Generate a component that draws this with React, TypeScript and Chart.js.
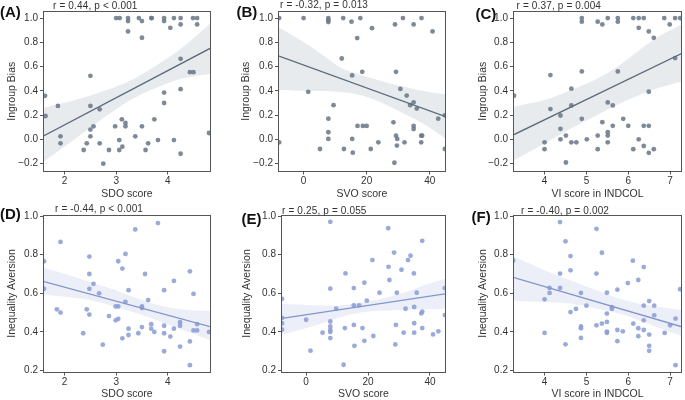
import React, { useEffect, useRef } from 'react';
import { Chart, registerables } from 'chart.js';
Chart.register(...registerables);

// ---------------- DATA ----------------
// Panel A: SDO score vs Ingroup Bias
const sdoA = [3.0,3.07,3.23,3.44,3.68,3.69,3.93,4.12,4.25,4.49,4.57, 3.23,3.50,3.93, 4.25,4.57, 4.05, 3.23, 3.50, 4.25,4.43,4.50,4.25,3.93,3.93, 2.50,1.62,1.87,2.50,2.68,1.63, 3.11,3.74,3.18,2.56,2.98,3.18,3.50, 2.50,4.80,1.92,2.50,3.37, 3.06,3.81,4.12, 1.92,2.43,2.68,3.62, 3.12, 2.37,2.86,3.06,3.57, 4.25,2.75];
const biasA = [1,1,1,1,1,1,1,1,1,1,1, 0.975,0.975,0.975, 0.948,0.948, 0.92, 0.89, 0.838, 0.664,0.554,0.554,0.414,0.386,0.30, 0.524,0.359,0.276,0.276,0.248,0.193, 0.166,0.166,0.136,0.108,0.108,0.108,0.108, 0.081,0.053,0.026,0.026,0.026, -0.005,-0.005,-0.005, -0.032,-0.032,-0.032,-0.032, -0.06, -0.087,-0.087,-0.087,-0.087, -0.118,-0.2];
const fitXA = [1.6, 4.82];
const fitYA = [0.03, 0.75];
const bandXA = [1.6, 2.2, 2.8, 3.3, 3.8, 4.3, 4.82];
const bandLoA = [-0.18, 0.004, 0.19, 0.33, 0.43, 0.504, 0.54];
const bandHiA = [0.26, 0.324, 0.405, 0.49, 0.615, 0.764, 0.956];

// Panel B: SVO score vs Ingroup Bias
const svoB = [-7.75,0,7.85,7.85,7.85,12.57,18.0,31.5,37.4, 15.2,21.7,29.0,34.9,40.9,17.0,12.1,18.6,15.4,29.3,1.47,30.7,32.7,33.8,34.9,35.9,9.5,44.8,42.7,7.85,17.1,18.8,20.0,28.5,34.9,34.9,7.85,37.3,37.6,29.3,29.7,7.85,15.4,-7.75,23.7,32.0,37.3,29.6,5.2,12.8,21.3,44.8,15.6,28.8];
const biasB = [1,1,1,0.983,0.967,1,1,1,1, 0.97,0.917,0.948,0.948,0.89,0.835,0.667,0.557,0.527,0.557,0.392,0.416,0.361,0.282,0.306,0.254,0.282,0.199,0.171,0.171,0.111,0.111,0.111,0.141,0.111,0.086,0.059,0.031,0.031,0.031,0.004,0.004,0.004,-0.024,-0.024,-0.024,-0.024,-0.051,-0.079,-0.079,-0.079,-0.079,-0.109,-0.192];
const fitXB = [-7.8, 44.85];
const fitYB = [0.686, 0.19];
const bandXB = [-7.8, 1.4, 6.6, 11.8, 17.1, 22.3, 27.5, 32.8, 38.0, 44.85];
const bandLoB = [0.41, 0.40, 0.40, 0.39, 0.37, 0.33, 0.27, 0.20, 0.13, 0.01];
const bandHiB = [0.923, 0.78, 0.685, 0.59, 0.54, 0.50, 0.46, 0.43, 0.40, 0.372];

// Panel C: VI score in INDCOL vs Ingroup Bias
const viC = [4.89,4.89,5.27,5.38,5.51,5.75,5.75,6.12,6.25,6.37,6.25,6.49,6.61,6.86,6.99,7.12,7.24,7.12, 3.27,4.14,4.89,5.75,4.64,6.49,4.14,4.64,5.51,5.63,4.38,4.89,5.88,4.38,5.38,5.63,6.0,6.37,6.49,5.51,5.51,4.51,5.27,4.38,5.01,6.25,4.0,4.64,4.76,5.51,6.37,4.0,5.27,6.12,6.61,6.49,4.51];
const biasC = [1,0.97,0.97,0.948,1,1,0.97,1,1,1,0.92,0.89,0.837,1,0.948,1,1,0.67, 0.36,0.53,0.56,0.56,0.418,0.393,0.25,0.28,0.305,0.28,0.197,0.17,0.17,0.087,0.142,0.112,0.112,0.112,0.112,0.06,0.032,0.032,0.032,0.001,0.001,0.001,-0.024,-0.024,-0.024,-0.024,-0.054,-0.08,-0.08,-0.08,-0.08,-0.11,-0.19];
const fitXC = [3.27, 7.26];
const fitYC = [0.04, 0.705];
const bandXC = [3.27, 4.0, 4.63, 5.25, 5.8, 6.27, 6.73, 7.26];
const bandLoC = [-0.172, -0.034, 0.09, 0.2, 0.297, 0.366, 0.426, 0.476];
const bandHiC = [0.27, 0.324, 0.407, 0.50, 0.614, 0.738, 0.848, 0.945];

// Panel D: SDO score vs Inequality Aversion
const sdoD = [1.60,1.60,1.92,1.85,1.92,2.48,2.48,2.48,2.56,2.67,2.43,2.48,2.36,2.74,2.86,2.99,3.04,2.99,3.04,3.04,3.12,3.18,3.18,3.24,3.24,3.24,3.12,3.37,3.43,3.50,3.50,3.50,3.56,3.62,3.68,3.68,3.74,3.81,3.93,3.93,3.93,3.93,4.05,4.12,4.12,4.24,4.24,4.24,4.43,4.43,4.43,4.50,4.50,4.57,4.57,4.80];
const aversionD = [0.766,0.623,0.866,0.517,0.50,0.79,0.70,0.623,0.649,0.60,0.517,0.49,0.393,0.334,0.482,0.532,0.532,0.46,0.468,0.766,0.728,0.804,0.556,0.616,0.417,0.384,0.367,0.931,0.393,0.532,0.524,0.425,0.70,0.565,0.44,0.417,0.40,0.964,0.616,0.432,0.393,0.30,0.376,0.417,0.664,0.45,0.432,0.324,0.714,0.351,0.228,0.597,0.408,0.408,0.44,0.40];
const fitXD = [1.6, 4.82];
const fitYD = [0.661, 0.427];
const bandXD = [1.6, 2.03, 2.48, 2.99, 3.5, 3.95, 4.4, 4.82];
const bandLoD = [0.592, 0.582, 0.565, 0.53, 0.487, 0.444, 0.40, 0.358];
const bandHiD = [0.732, 0.699, 0.66, 0.616, 0.565, 0.53, 0.513, 0.508];

// Panel E: SVO score vs Inequality Aversion
const svoE = [-7.8,-7.8,-7.8,-7.8,0,1.4,5.3,9.7,7.8,7.8,7.8,7.8,7.8,7.8,7.8,12.7,12.5,12.1,15.4,15.4,15.4,15.6,17.1,18.2,18.8,18.8,19.6,21.4,21.7,23.7,26.5,26.6,26.9,28.4,28.8,29.0,29.3,30.8,31.5,32.1,32.9,33.7,34.8,34.9,34.9,34.9,35.7,37.2,37.5,37.5,37.5,41.0,42.7,44.8,44.8];
const aversionE = [0.571,0.473,0.445,0.412,0.463,0.303,0.396,0.52,0.624,0.454,0.428,0.41,0.40,0.368,0.97,0.703,0.42,0.23,0.627,0.538,0.436,0.328,0.538,0.42,0.655,0.354,0.562,0.772,0.379,0.603,0.937,0.737,0.669,0.811,0.335,0.436,0.603,0.722,0.396,0.52,0.772,0.795,0.703,0.529,0.445,0.396,0.603,0.496,0.505,0.872,0.42,0.387,0.403,0.627,0.487];
const fitXE = [-7.8, 44.85];
const fitYE = [0.47, 0.597];
const bandXE = [-7.8, 0.53, 9.1, 16.5, 24.0, 31.5, 37.9, 44.85];
const bandLoE = [0.387, 0.422, 0.466, 0.498, 0.51, 0.513, 0.517, 0.519];
const bandHiE = [0.545, 0.54, 0.536, 0.55, 0.571, 0.603, 0.641, 0.676];

// Panel F: VI score in INDCOL vs Inequality Aversion
const viF = [3.25,4.0,4.0,4.12,4.12,4.37,4.37,4.37,4.50,4.50,4.62,4.62,4.62,4.75,4.87,4.87,4.87,4.87,5.0,5.24,5.24,5.24,5.37,5.37,5.49,5.49,5.49,5.49,5.49,5.61,5.61,5.74,5.74,5.74,5.87,5.99,6.11,6.12,6.24,6.24,6.24,6.37,6.37,6.37,6.37,6.50,6.50,6.50,6.50,6.62,6.62,6.87,7.0,7.13,7.13,7.24];
const aversionF = [0.769,0.569,0.395,0.628,0.602,0.969,0.702,0.628,0.869,0.336,0.793,0.719,0.503,0.519,0.602,0.428,0.419,0.369,0.536,0.934,0.702,0.434,0.81,0.443,0.603,0.495,0.452,0.402,0.395,0.528,0.519,0.619,0.41,0.352,0.403,0.653,0.769,0.443,0.669,0.419,0.378,0.736,0.536,0.46,0.41,0.56,0.386,0.328,0.302,0.536,0.486,0.395,0.434,0.469,0.228,0.621];
const fitXF = [3.27, 7.26];
const fitYF = [0.681, 0.428];
const bandXF = [3.27, 4.0, 4.61, 5.24, 5.79, 6.26, 6.73, 7.26];
const bandLoF = [0.562, 0.555, 0.547, 0.521, 0.495, 0.46, 0.422, 0.381];
const bandHiF = [0.79, 0.719, 0.667, 0.616, 0.572, 0.547, 0.529, 0.514];

// Tick labels
const ticksBias = [-0.2, 0, 0.2, 0.4, 0.6, 0.8, 1.0];
const ticksAversion = [0.2, 0.4, 0.6, 0.8, 1.0];
const ticksSDO = [2, 3, 4];
const ticksSVO = [0, 20, 40];
const ticksVI = [4, 5, 6, 7];

// Labels
const panelLetters = ['(A)', '(B)', '(C)', '(D)', '(E)', '(F)'];
const statTexts = [
  'r = 0.44, p < 0.001',
  'r = -0.32, p = 0.013',
  'r = 0.37, p = 0.004',
  'r = -0.44, p < 0.001',
  'r = 0.25, p = 0.055',
  'r = -0.40, p = 0.002',
];
const xTitles = ['SDO score', 'SVO score', 'VI score in INDCOL', 'SDO score', 'SVO score', 'VI score in INDCOL'];
const yTitles = ['Ingroup Bias', 'Ingroup Bias', 'Ingroup Bias', 'Inequality Aversion', 'Inequality Aversion', 'Inequality Aversion'];

// ---------------- STYLE / LAYOUT ----------------
const FONT = "'Liberation Sans', Arial, Helvetica, sans-serif";
const TOP_STYLE = { dot: 'rgba(108,122,138,0.88)', line: '#5b6b7c', band: 'rgba(120,135,155,0.17)' };
const BOT_STYLE = { dot: 'rgba(140,158,212,0.88)', line: '#8395cb', band: 'rgba(140,160,215,0.17)' };

type Layout = { cl: number; ct: number; cr: number; L: number; T: number; R: number; B: number; titleX: number;
  letter: [number, number]; stat: [number, number]; xr: [number, number]; yr: [number, number] };

const layouts: Layout[] = [
  { cl: 0, ct: 0, cr: 214, L: 44, T: 12, R: 212, B: 170.5, titleX: 12.3, letter: [0, 4], stat: [53, 0.5], xr: [1.6, 4.82], yr: [-0.256, 1.05] },
  { cl: 228, ct: 0, cr: 449, L: 279, T: 12, R: 447, B: 170.5, titleX: 245.7, letter: [236.5, 4], stat: [280, -0.5], xr: [-7.8, 44.85], yr: [-0.256, 1.05] },
  { cl: 458, ct: 0, cr: 685, L: 514, T: 12, R: 684, B: 170.5, titleX: 483.3, letter: [475.5, 6], stat: [516.5, 0.5], xr: [3.27, 7.26], yr: [-0.256, 1.05] },
  { cl: 0, ct: 200, cr: 214, L: 44, T: 215.5, R: 212, B: 371.5, titleX: 12.3, letter: [0, 206], stat: [55, 203.5], xr: [1.6, 4.82], yr: [0.195, 1.003] },
  { cl: 228, ct: 200, cr: 449, L: 282, T: 215.5, R: 447, B: 371.5, titleX: 247.3, letter: [241.5, 210.5], stat: [282, 206], xr: [-7.8, 44.85], yr: [0.195, 1.003] },
  { cl: 458, ct: 200, cr: 685, L: 514, T: 215.5, R: 684, B: 371.5, titleX: 483.3, letter: [471.5, 209], stat: [521, 206], xr: [3.27, 7.26], yr: [0.195, 1.003] },
];

const panelData = [
  { xs: sdoA, ys: biasA, fx: fitXA, fy: fitYA, bx: bandXA, blo: bandLoA, bhi: bandHiA, xt: ticksSDO, yt: ticksBias },
  { xs: svoB, ys: biasB, fx: fitXB, fy: fitYB, bx: bandXB, blo: bandLoB, bhi: bandHiB, xt: ticksSVO, yt: ticksBias },
  { xs: viC, ys: biasC, fx: fitXC, fy: fitYC, bx: bandXC, blo: bandLoC, bhi: bandHiC, xt: ticksVI, yt: ticksBias },
  { xs: sdoD, ys: aversionD, fx: fitXD, fy: fitYD, bx: bandXD, blo: bandLoD, bhi: bandHiD, xt: ticksSDO, yt: ticksAversion },
  { xs: svoE, ys: aversionE, fx: fitXE, fy: fitYE, bx: bandXE, blo: bandLoE, bhi: bandHiE, xt: ticksSVO, yt: ticksAversion },
  { xs: viF, ys: aversionF, fx: fitXF, fy: fitYF, bx: bandXF, blo: bandLoF, bhi: bandHiF, xt: ticksVI, yt: ticksAversion },
];

const zip = (xs: number[], ys: number[]) => xs.map((x, i) => ({ x, y: ys[i] }));
const fmtY = (v: number) => (v < 0 ? '\u2212' : '') + Math.abs(v).toFixed(1);

const framePlugin = {
  id: 'frame',
  afterDatasetsDraw(chart: any) {
    const { ctx, chartArea: a } = chart;
    ctx.save();
    ctx.strokeStyle = '#555555';
    ctx.lineWidth = 1;
    const l = Math.round(a.left) - 0.5, t = Math.round(a.top) - 0.5;
    const r = Math.round(a.right) + 0.5, b = Math.round(a.bottom) + 0.5;
    ctx.strokeRect(l, t, r - l, b - t);
    ctx.restore();
  },
};

function Panel({ idx }: { idx: number }) {
  const ref = useRef<HTMLCanvasElement>(null);
  const lay = layouts[idx];
  const d = panelData[idx];
  const st = idx < 3 ? TOP_STYLE : BOT_STYLE;
  const cw = lay.cr - lay.cl;
  const ch = 200;
  useEffect(() => {
    const yw = lay.L - lay.cl;
    const xh = lay.ct + ch - lay.B;
    const tickFont = { family: FONT, size: 10 };
    const titleFont = { family: FONT, size: 10.5 };
    const grid = { display: true, drawOnChartArea: false, drawTicks: true, tickLength: 4, color: '#555555', lineWidth: 1 };
    const chart = new Chart(ref.current!, {
      type: 'scatter',
      data: {
        datasets: [
          { type: 'line', data: zip(d.bx, d.blo), borderWidth: 0, borderColor: 'transparent', pointRadius: 0, fill: false, cubicInterpolationMode: 'monotone', order: 3, clip: 0 } as any,
          { type: 'line', data: zip(d.bx, d.bhi), borderWidth: 0, borderColor: 'transparent', pointRadius: 0, fill: '-1', backgroundColor: st.band, cubicInterpolationMode: 'monotone', order: 2, clip: 0 } as any,
          { type: 'scatter', data: zip(d.xs, d.ys), pointRadius: 2.4, pointBackgroundColor: st.dot, backgroundColor: st.dot, pointBorderWidth: 0, borderWidth: 0, order: 1, clip: 0 } as any,
          { type: 'line', data: zip(d.fx, d.fy), borderColor: st.line, borderWidth: 1.3, pointRadius: 0, fill: false, tension: 0, order: 0, clip: 0 } as any,
        ],
      },
      options: {
        responsive: false,
        devicePixelRatio: 1,
        animation: false,
        events: [],
        layout: { padding: { left: 0, top: lay.T - lay.ct, right: lay.cr - lay.R, bottom: 0 } },
        plugins: { legend: { display: false }, tooltip: { enabled: false } },
        scales: {
          x: {
            type: 'linear', position: 'bottom', min: lay.xr[0], max: lay.xr[1],
            afterBuildTicks: (s: any) => { s.ticks = d.xt.map((v) => ({ value: v })); },
            afterFit: (s: any) => { s.height = xh; },
            ticks: { font: tickFont, color: '#333333', padding: 1, maxRotation: 0, autoSkip: false, callback: (v: any) => String(v) },
            grid, border: { display: false },
            title: { display: true, text: xTitles[idx], font: titleFont, color: '#333333', padding: { top: 0, bottom: 0 } },
          },
          y: {
            type: 'linear', position: 'left', min: lay.yr[0], max: lay.yr[1],
            afterBuildTicks: (s: any) => { s.ticks = d.yt.map((v) => ({ value: v })); },
            afterFit: (s: any) => { s.width = yw; },
            ticks: { font: tickFont, color: '#333333', padding: 2, autoSkip: false, callback: (v: any) => fmtY(Number(v)) },
            grid, border: { display: false },
            title: { display: true, text: yTitles[idx], font: titleFont, color: '#333333', padding: { top: lay.titleX - lay.cl - 6.3, bottom: 0 } },
          },
        },
      } as any,
      plugins: [framePlugin],
    });
    return () => chart.destroy();
  }, []);
  return (
    <>
      <canvas ref={ref} width={cw} height={ch}
        style={{ position: 'absolute', left: lay.cl, top: lay.ct, width: cw, height: ch, display: 'block' }} />
      <div style={{ position: 'absolute', left: lay.letter[0], top: lay.letter[1], fontFamily: FONT, fontWeight: 'bold', fontSize: 15, lineHeight: '15px', color: '#111', whiteSpace: 'nowrap' }}>
        {panelLetters[idx]}
      </div>
      <div style={{ position: 'absolute', left: lay.stat[0], top: lay.stat[1], fontFamily: FONT, fontSize: 10, lineHeight: '10px', letterSpacing: '0.15px', color: '#333', whiteSpace: 'nowrap' }}>
        {statTexts[idx]}
      </div>
    </>
  );
}

export default function App() {
  return (
    <div style={{ position: 'fixed', left: 0, top: 0, width: 685, height: 400, background: '#ffffff', overflow: 'hidden' }}>
      {[0, 1, 2, 3, 4, 5].map((i) => <Panel key={i} idx={i} />)}
    </div>
  );
}
